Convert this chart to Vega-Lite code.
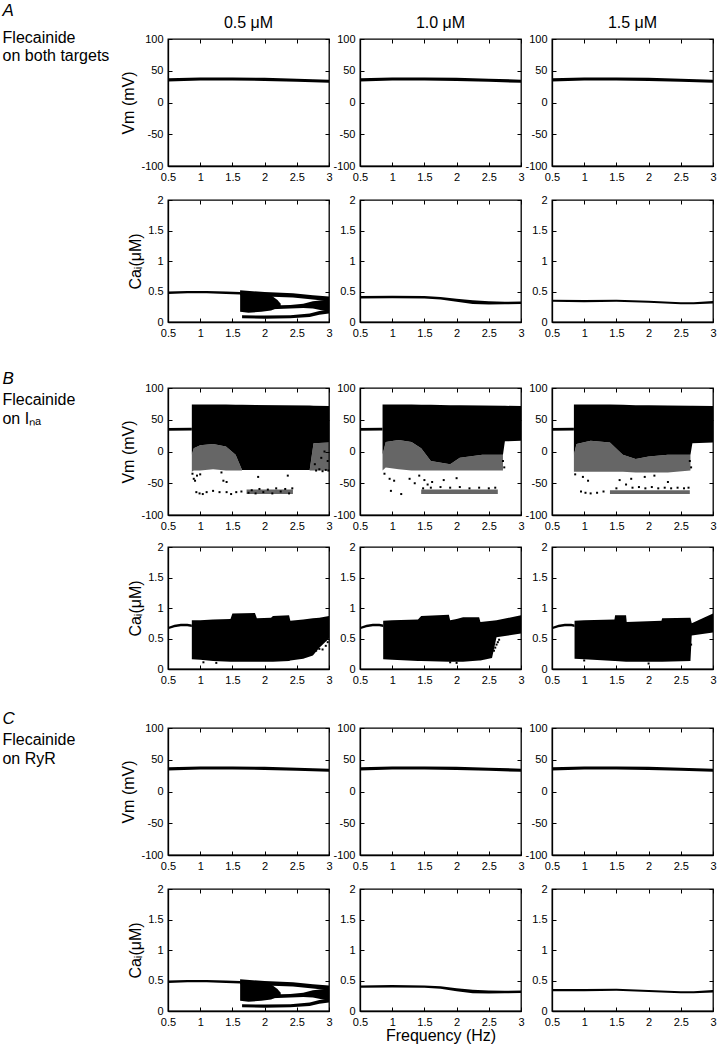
{
"$schema":"https://vega.github.io/schema/vega-lite/v6.json",
"padding":{"left":2,"top":2,"right":0,"bottom":2},
"background":"white",
"config":{
 "font":"Liberation Sans",
 "view":{"stroke":"black","strokeWidth":1.3},
 "axis":{"grid":false,"domainColor":"black","domainWidth":1.3,"tickColor":"black","tickSize":-4,"tickWidth":1,"labelColor":"black","labelFont":"Liberation Sans","labelFontSize":11,"labelPadding":9,"labelFlush":false,"labelOverlap":false,"labelBound":false,"titleColor":"black","titleFont":"Liberation Sans","titleFontSize":16,"titleFontWeight":"normal","titlePadding":4},
 "title":{"font":"Liberation Sans","fontSize":16,"fontWeight":"normal","color":"black"}
},
"datasets":{"d":[
{"p":"A1V","g":"m","f":0.5,"v":33,"v2":38},{"p":"A1V","g":"m","f":1.0,"v":34.5,"v2":39.5},{"p":"A1V","g":"m","f":1.5,"v":34.5,"v2":39.5},{"p":"A1V","g":"m","f":2.0,"v":34,"v2":39},{"p":"A1V","g":"m","f":2.5,"v":32.5,"v2":37.5},{"p":"A1V","g":"m","f":3.0,"v":31,"v2":36},
{"p":"A2V","g":"m","f":0.5,"v":33,"v2":38},{"p":"A2V","g":"m","f":1.0,"v":34.5,"v2":39.5},{"p":"A2V","g":"m","f":1.5,"v":34.5,"v2":39.5},{"p":"A2V","g":"m","f":2.0,"v":34,"v2":39},{"p":"A2V","g":"m","f":2.5,"v":32.5,"v2":37.5},{"p":"A2V","g":"m","f":3.0,"v":31,"v2":36},
{"p":"A3V","g":"m","f":0.5,"v":33,"v2":38},{"p":"A3V","g":"m","f":1.0,"v":34.5,"v2":39.5},{"p":"A3V","g":"m","f":1.5,"v":34.5,"v2":39.5},{"p":"A3V","g":"m","f":2.0,"v":34,"v2":39},{"p":"A3V","g":"m","f":2.5,"v":32.5,"v2":37.5},{"p":"A3V","g":"m","f":3.0,"v":31,"v2":36},
{"p":"C1V","g":"m","f":0.5,"v":33,"v2":38},{"p":"C1V","g":"m","f":1.0,"v":34.5,"v2":39.5},{"p":"C1V","g":"m","f":1.5,"v":34.5,"v2":39.5},{"p":"C1V","g":"m","f":2.0,"v":34,"v2":39},{"p":"C1V","g":"m","f":2.5,"v":32.5,"v2":37.5},{"p":"C1V","g":"m","f":3.0,"v":31,"v2":36},
{"p":"C2V","g":"m","f":0.5,"v":33,"v2":38},{"p":"C2V","g":"m","f":1.0,"v":34.5,"v2":39.5},{"p":"C2V","g":"m","f":1.5,"v":34.5,"v2":39.5},{"p":"C2V","g":"m","f":2.0,"v":34,"v2":39},{"p":"C2V","g":"m","f":2.5,"v":32.5,"v2":37.5},{"p":"C2V","g":"m","f":3.0,"v":31,"v2":36},
{"p":"C3V","g":"m","f":0.5,"v":33,"v2":38},{"p":"C3V","g":"m","f":1.0,"v":34.5,"v2":39.5},{"p":"C3V","g":"m","f":1.5,"v":34.5,"v2":39.5},{"p":"C3V","g":"m","f":2.0,"v":34,"v2":39},{"p":"C3V","g":"m","f":2.5,"v":32.5,"v2":37.5},{"p":"C3V","g":"m","f":3.0,"v":31,"v2":36},

{"p":"A1C","g":"m","f":0.5,"v":0.46,"v2":0.5},{"p":"A1C","g":"m","f":0.8,"v":0.47,"v2":0.51},{"p":"A1C","g":"m","f":1.1,"v":0.47,"v2":0.51},{"p":"A1C","g":"m","f":1.4,"v":0.46,"v2":0.5},{"p":"A1C","g":"m","f":1.62,"v":0.45,"v2":0.49},
{"p":"A1C","g":"u","f":1.62,"v":0.44,"v2":0.52},{"p":"A1C","g":"u","f":2.0,"v":0.42,"v2":0.49},{"p":"A1C","g":"u","f":2.44,"v":0.4,"v2":0.47},{"p":"A1C","g":"u","f":2.75,"v":0.37,"v2":0.44},{"p":"A1C","g":"u","f":3.0,"v":0.34,"v2":0.42},
{"p":"A1C","g":"b","f":1.62,"v":0.17,"v2":0.5},{"p":"A1C","g":"b","f":1.75,"v":0.15,"v2":0.49},{"p":"A1C","g":"b","f":1.95,"v":0.17,"v2":0.47},{"p":"A1C","g":"b","f":2.1,"v":0.19,"v2":0.44},{"p":"A1C","g":"b","f":2.2,"v":0.23,"v2":0.36},{"p":"A1C","g":"b","f":2.25,"v":0.26,"v2":0.3},
{"p":"A1C","g":"k","f":2.1,"v":0.21,"v2":0.27},{"p":"A1C","g":"k","f":2.4,"v":0.22,"v2":0.28},{"p":"A1C","g":"k","f":2.6,"v":0.23,"v2":0.3},{"p":"A1C","g":"k","f":2.75,"v":0.22,"v2":0.34},{"p":"A1C","g":"k","f":3.0,"v":0.17,"v2":0.37},
{"p":"A1C","g":"l","f":1.65,"v":0.06,"v2":0.11},{"p":"A1C","g":"l","f":2.0,"v":0.055,"v2":0.105},{"p":"A1C","g":"l","f":2.4,"v":0.06,"v2":0.11},{"p":"A1C","g":"l","f":2.7,"v":0.08,"v2":0.14},{"p":"A1C","g":"l","f":2.85,"v":0.12,"v2":0.18},{"p":"A1C","g":"l","f":3.0,"v":0.14,"v2":0.2},

{"p":"C1C","g":"m","f":0.5,"v":0.46,"v2":0.5},{"p":"C1C","g":"m","f":0.8,"v":0.47,"v2":0.51},{"p":"C1C","g":"m","f":1.1,"v":0.47,"v2":0.51},{"p":"C1C","g":"m","f":1.4,"v":0.46,"v2":0.5},{"p":"C1C","g":"m","f":1.62,"v":0.45,"v2":0.49},
{"p":"C1C","g":"u","f":1.62,"v":0.44,"v2":0.52},{"p":"C1C","g":"u","f":2.0,"v":0.42,"v2":0.49},{"p":"C1C","g":"u","f":2.44,"v":0.4,"v2":0.47},{"p":"C1C","g":"u","f":2.75,"v":0.37,"v2":0.44},{"p":"C1C","g":"u","f":3.0,"v":0.34,"v2":0.42},
{"p":"C1C","g":"b","f":1.62,"v":0.17,"v2":0.5},{"p":"C1C","g":"b","f":1.75,"v":0.15,"v2":0.49},{"p":"C1C","g":"b","f":1.95,"v":0.17,"v2":0.47},{"p":"C1C","g":"b","f":2.1,"v":0.19,"v2":0.44},{"p":"C1C","g":"b","f":2.2,"v":0.23,"v2":0.36},{"p":"C1C","g":"b","f":2.25,"v":0.26,"v2":0.3},
{"p":"C1C","g":"k","f":2.1,"v":0.21,"v2":0.27},{"p":"C1C","g":"k","f":2.4,"v":0.22,"v2":0.28},{"p":"C1C","g":"k","f":2.6,"v":0.23,"v2":0.3},{"p":"C1C","g":"k","f":2.75,"v":0.22,"v2":0.34},{"p":"C1C","g":"k","f":3.0,"v":0.17,"v2":0.37},
{"p":"C1C","g":"l","f":1.65,"v":0.06,"v2":0.11},{"p":"C1C","g":"l","f":2.0,"v":0.055,"v2":0.105},{"p":"C1C","g":"l","f":2.4,"v":0.06,"v2":0.11},{"p":"C1C","g":"l","f":2.7,"v":0.08,"v2":0.14},{"p":"C1C","g":"l","f":2.85,"v":0.12,"v2":0.18},{"p":"C1C","g":"l","f":3.0,"v":0.14,"v2":0.2},

{"p":"A2C","g":"m","f":0.5,"v":0.385,"v2":0.425},{"p":"A2C","g":"m","f":1.0,"v":0.39,"v2":0.43},{"p":"A2C","g":"m","f":1.5,"v":0.385,"v2":0.425},{"p":"A2C","g":"m","f":1.75,"v":0.37,"v2":0.41},{"p":"A2C","g":"m","f":2.0,"v":0.33,"v2":0.38},{"p":"A2C","g":"m","f":2.25,"v":0.295,"v2":0.355},{"p":"A2C","g":"m","f":2.5,"v":0.285,"v2":0.34},{"p":"A2C","g":"m","f":2.75,"v":0.29,"v2":0.33},{"p":"A2C","g":"m","f":3.0,"v":0.295,"v2":0.335},
{"p":"C2C","g":"m","f":0.5,"v":0.38,"v2":0.42},{"p":"C2C","g":"m","f":1.0,"v":0.385,"v2":0.425},{"p":"C2C","g":"m","f":1.5,"v":0.38,"v2":0.42},{"p":"C2C","g":"m","f":1.75,"v":0.365,"v2":0.405},{"p":"C2C","g":"m","f":2.0,"v":0.325,"v2":0.375},{"p":"C2C","g":"m","f":2.25,"v":0.29,"v2":0.35},{"p":"C2C","g":"m","f":2.5,"v":0.285,"v2":0.335},{"p":"C2C","g":"m","f":2.75,"v":0.29,"v2":0.33},{"p":"C2C","g":"m","f":3.0,"v":0.295,"v2":0.335},
{"p":"A3C","g":"m","f":0.5,"v":0.33,"v2":0.365},{"p":"A3C","g":"m","f":1.0,"v":0.325,"v2":0.36},{"p":"A3C","g":"m","f":1.5,"v":0.33,"v2":0.365},{"p":"A3C","g":"m","f":2.0,"v":0.315,"v2":0.35},{"p":"A3C","g":"m","f":2.5,"v":0.29,"v2":0.325},{"p":"A3C","g":"m","f":2.7,"v":0.29,"v2":0.325},{"p":"A3C","g":"m","f":3.0,"v":0.305,"v2":0.345},
{"p":"C3C","g":"m","f":0.5,"v":0.325,"v2":0.36},{"p":"C3C","g":"m","f":1.0,"v":0.325,"v2":0.36},{"p":"C3C","g":"m","f":1.5,"v":0.33,"v2":0.365},{"p":"C3C","g":"m","f":2.0,"v":0.31,"v2":0.345},{"p":"C3C","g":"m","f":2.5,"v":0.29,"v2":0.325},{"p":"C3C","g":"m","f":2.7,"v":0.29,"v2":0.325},{"p":"C3C","g":"m","f":3.0,"v":0.305,"v2":0.345},

{"p":"B1V","g":"m","f":0.5,"v":32.5,"v2":37},{"p":"B1V","g":"m","f":0.87,"v":33,"v2":37.5},
{"p":"B1V","g":"d","f":0.87,"v":-5,"v2":74},{"p":"B1V","g":"d","f":0.9,"v":5,"v2":74},{"p":"B1V","g":"d","f":1.0,"v":10,"v2":74},{"p":"B1V","g":"d","f":1.2,"v":12,"v2":74},{"p":"B1V","g":"d","f":1.4,"v":8,"v2":74},{"p":"B1V","g":"d","f":1.55,"v":-5,"v2":73.5},{"p":"B1V","g":"d","f":1.65,"v":-29,"v2":73.5},{"p":"B1V","g":"d","f":2.7,"v":-29,"v2":72.3},{"p":"B1V","g":"d","f":2.76,"v":13,"v2":72.1},{"p":"B1V","g":"d","f":3.0,"v":14,"v2":71.5},
{"p":"B1V","g":"s1","f":0.87,"v":-32,"v2":-5},{"p":"B1V","g":"s1","f":0.9,"v":-30,"v2":5},{"p":"B1V","g":"s1","f":1.0,"v":-30,"v2":10},{"p":"B1V","g":"s1","f":1.2,"v":-28,"v2":12},{"p":"B1V","g":"s1","f":1.4,"v":-30,"v2":8},{"p":"B1V","g":"s1","f":1.55,"v":-30,"v2":-5},{"p":"B1V","g":"s1","f":1.65,"v":-30,"v2":-29},
{"p":"B1V","g":"s2","f":2.7,"v":-30,"v2":-29},{"p":"B1V","g":"s2","f":2.76,"v":-30,"v2":13},{"p":"B1V","g":"s2","f":3.0,"v":-30,"v2":14},
{"p":"B1V","g":"s3","f":1.72,"v":-67,"v2":-60},{"p":"B1V","g":"s3","f":2.44,"v":-67,"v2":-60},
{"p":"B1V","g":"x","f":0.88,"v":-35},{"p":"B1V","g":"x","f":0.9,"v":-43},{"p":"B1V","g":"x","f":0.92,"v":-46},{"p":"B1V","g":"x","f":0.95,"v":-38},{"p":"B1V","g":"x","f":1.0,"v":-36},{"p":"B1V","g":"x","f":0.94,"v":-64},{"p":"B1V","g":"x","f":0.99,"v":-66},{"p":"B1V","g":"x","f":1.04,"v":-67},{"p":"B1V","g":"x","f":1.1,"v":-64},{"p":"B1V","g":"x","f":1.2,"v":-62},{"p":"B1V","g":"x","f":1.3,"v":-64},{"p":"B1V","g":"x","f":1.41,"v":-64},{"p":"B1V","g":"x","f":1.48,"v":-67},{"p":"B1V","g":"x","f":1.56,"v":-64},{"p":"B1V","g":"x","f":1.64,"v":-63},{"p":"B1V","g":"x","f":1.33,"v":-33},{"p":"B1V","g":"x","f":1.36,"v":-46},{"p":"B1V","g":"x","f":1.41,"v":-48},{"p":"B1V","g":"x","f":1.9,"v":-40},{"p":"B1V","g":"x","f":2.36,"v":-38},{"p":"B1V","g":"x","f":1.75,"v":-65},{"p":"B1V","g":"x","f":1.8,"v":-61},{"p":"B1V","g":"x","f":1.86,"v":-66},{"p":"B1V","g":"x","f":1.92,"v":-59},{"p":"B1V","g":"x","f":1.98,"v":-64},{"p":"B1V","g":"x","f":2.05,"v":-60},{"p":"B1V","g":"x","f":2.12,"v":-66},{"p":"B1V","g":"x","f":2.18,"v":-58},{"p":"B1V","g":"x","f":2.25,"v":-63},{"p":"B1V","g":"x","f":2.32,"v":-59},{"p":"B1V","g":"x","f":2.38,"v":-66},{"p":"B1V","g":"x","f":2.43,"v":-58},{"p":"B1V","g":"x","f":2.8,"v":-30},{"p":"B1V","g":"x","f":2.85,"v":-28},{"p":"B1V","g":"x","f":2.9,"v":-31},{"p":"B1V","g":"x","f":2.95,"v":-29},{"p":"B1V","g":"x","f":2.99,"v":-30},{"p":"B1V","g":"x","f":2.78,"v":-20},{"p":"B1V","g":"x","f":2.88,"v":-10},{"p":"B1V","g":"x","f":2.93,"v":0},{"p":"B1V","g":"x","f":2.98,"v":-15},

{"p":"B2V","g":"m","f":0.5,"v":32.5,"v2":37},{"p":"B2V","g":"m","f":0.85,"v":33,"v2":37.5},
{"p":"B2V","g":"d","f":0.85,"v":-5,"v2":74},{"p":"B2V","g":"d","f":0.9,"v":15,"v2":74},{"p":"B2V","g":"d","f":1.1,"v":18,"v2":74},{"p":"B2V","g":"d","f":1.3,"v":15,"v2":74},{"p":"B2V","g":"d","f":1.45,"v":5,"v2":73.8},{"p":"B2V","g":"d","f":1.6,"v":-15,"v2":73.5},{"p":"B2V","g":"d","f":1.9,"v":-20,"v2":73},{"p":"B2V","g":"d","f":2.05,"v":-10,"v2":73},{"p":"B2V","g":"d","f":2.4,"v":-5,"v2":72.5},{"p":"B2V","g":"d","f":2.72,"v":-5,"v2":72},{"p":"B2V","g":"d","f":2.75,"v":16,"v2":72},{"p":"B2V","g":"d","f":3.0,"v":17,"v2":71.5},
{"p":"B2V","g":"s1","f":0.85,"v":-30,"v2":-5},{"p":"B2V","g":"s1","f":0.9,"v":-25,"v2":15},{"p":"B2V","g":"s1","f":1.1,"v":-28,"v2":18},{"p":"B2V","g":"s1","f":1.3,"v":-30,"v2":15},{"p":"B2V","g":"s1","f":1.45,"v":-30,"v2":5},{"p":"B2V","g":"s1","f":1.6,"v":-30,"v2":-15},{"p":"B2V","g":"s1","f":1.9,"v":-30,"v2":-20},{"p":"B2V","g":"s1","f":2.05,"v":-30,"v2":-10},{"p":"B2V","g":"s1","f":2.4,"v":-30,"v2":-5},{"p":"B2V","g":"s1","f":2.72,"v":-30,"v2":-5},
{"p":"B2V","g":"s3","f":1.45,"v":-67,"v2":-60},{"p":"B2V","g":"s3","f":2.64,"v":-67,"v2":-60},
{"p":"B2V","g":"x","f":0.88,"v":-35},{"p":"B2V","g":"x","f":0.96,"v":-43},{"p":"B2V","g":"x","f":0.98,"v":-62},{"p":"B2V","g":"x","f":1.03,"v":-46},{"p":"B2V","g":"x","f":1.14,"v":-67},{"p":"B2V","g":"x","f":1.27,"v":-43},{"p":"B2V","g":"x","f":1.35,"v":-50},{"p":"B2V","g":"x","f":1.42,"v":-38},{"p":"B2V","g":"x","f":1.5,"v":-45},{"p":"B2V","g":"x","f":1.55,"v":-52},{"p":"B2V","g":"x","f":1.62,"v":-48},{"p":"B2V","g":"x","f":1.48,"v":-58},{"p":"B2V","g":"x","f":1.6,"v":-57},{"p":"B2V","g":"x","f":1.75,"v":-56},{"p":"B2V","g":"x","f":1.9,"v":-57},{"p":"B2V","g":"x","f":2.05,"v":-56},{"p":"B2V","g":"x","f":2.2,"v":-58},{"p":"B2V","g":"x","f":2.35,"v":-57},{"p":"B2V","g":"x","f":2.5,"v":-58},{"p":"B2V","g":"x","f":2.6,"v":-57},{"p":"B2V","g":"x","f":2.74,"v":-25},{"p":"B2V","g":"x","f":2.72,"v":-15},{"p":"B2V","g":"x","f":1.8,"v":-45},{"p":"B2V","g":"x","f":2.0,"v":-42},

{"p":"B3V","g":"m","f":0.5,"v":32.5,"v2":37},{"p":"B3V","g":"m","f":0.84,"v":33,"v2":37.5},
{"p":"B3V","g":"d","f":0.84,"v":-5,"v2":74},{"p":"B3V","g":"d","f":0.88,"v":12,"v2":74},{"p":"B3V","g":"d","f":1.1,"v":17,"v2":74},{"p":"B3V","g":"d","f":1.4,"v":14,"v2":74},{"p":"B3V","g":"d","f":1.6,"v":-5,"v2":73.5},{"p":"B3V","g":"d","f":1.8,"v":-12,"v2":73},{"p":"B3V","g":"d","f":2.0,"v":-8,"v2":73},{"p":"B3V","g":"d","f":2.3,"v":-5,"v2":72.5},{"p":"B3V","g":"d","f":2.65,"v":-5,"v2":72},{"p":"B3V","g":"d","f":2.68,"v":13,"v2":72},{"p":"B3V","g":"d","f":3.0,"v":14,"v2":71.5},
{"p":"B3V","g":"s1","f":0.84,"v":-32,"v2":-5},{"p":"B3V","g":"s1","f":0.88,"v":-32,"v2":12},{"p":"B3V","g":"s1","f":1.1,"v":-32,"v2":17},{"p":"B3V","g":"s1","f":1.4,"v":-32,"v2":14},{"p":"B3V","g":"s1","f":1.6,"v":-32,"v2":-5},{"p":"B3V","g":"s1","f":1.8,"v":-33,"v2":-12},{"p":"B3V","g":"s1","f":2.0,"v":-33,"v2":-8},{"p":"B3V","g":"s1","f":2.3,"v":-33,"v2":-5},{"p":"B3V","g":"s1","f":2.65,"v":-30,"v2":-5},
{"p":"B3V","g":"s3","f":1.4,"v":-67,"v2":-61},{"p":"B3V","g":"s3","f":2.64,"v":-67,"v2":-61},
{"p":"B3V","g":"x","f":0.86,"v":-36},{"p":"B3V","g":"x","f":0.98,"v":-40},{"p":"B3V","g":"x","f":1.06,"v":-46},{"p":"B3V","g":"x","f":0.95,"v":-63},{"p":"B3V","g":"x","f":1.02,"v":-65},{"p":"B3V","g":"x","f":1.1,"v":-66},{"p":"B3V","g":"x","f":1.2,"v":-65},{"p":"B3V","g":"x","f":1.3,"v":-63},{"p":"B3V","g":"x","f":1.73,"v":-43},{"p":"B3V","g":"x","f":1.94,"v":-40},{"p":"B3V","g":"x","f":2.09,"v":-38},{"p":"B3V","g":"x","f":2.3,"v":-48},{"p":"B3V","g":"x","f":1.55,"v":-45},{"p":"B3V","g":"x","f":1.65,"v":-52},{"p":"B3V","g":"x","f":1.5,"v":-58},{"p":"B3V","g":"x","f":1.75,"v":-57},{"p":"B3V","g":"x","f":1.85,"v":-56},{"p":"B3V","g":"x","f":1.95,"v":-58},{"p":"B3V","g":"x","f":2.05,"v":-56},{"p":"B3V","g":"x","f":2.15,"v":-58},{"p":"B3V","g":"x","f":2.25,"v":-57},{"p":"B3V","g":"x","f":2.35,"v":-58},{"p":"B3V","g":"x","f":2.45,"v":-57},{"p":"B3V","g":"x","f":2.55,"v":-58},{"p":"B3V","g":"x","f":2.62,"v":-57},{"p":"B3V","g":"x","f":2.66,"v":-25},{"p":"B3V","g":"x","f":2.64,"v":-15},

{"p":"B1C","g":"m","f":0.5,"v":0.65,"v2":0.69},{"p":"B1C","g":"m","f":0.6,"v":0.685,"v2":0.725},{"p":"B1C","g":"m","f":0.7,"v":0.7,"v2":0.74},{"p":"B1C","g":"m","f":0.8,"v":0.7,"v2":0.74},{"p":"B1C","g":"m","f":0.87,"v":0.69,"v2":0.73},
{"p":"B1C","g":"d","f":0.87,"v":0.16,"v2":0.8},{"p":"B1C","g":"d","f":1.0,"v":0.15,"v2":0.8},{"p":"B1C","g":"d","f":1.2,"v":0.13,"v2":0.81},{"p":"B1C","g":"d","f":1.47,"v":0.12,"v2":0.82},{"p":"B1C","g":"d","f":1.5,"v":0.12,"v2":0.91},{"p":"B1C","g":"d","f":1.85,"v":0.12,"v2":0.92},{"p":"B1C","g":"d","f":1.88,"v":0.12,"v2":0.83},{"p":"B1C","g":"d","f":2.1,"v":0.12,"v2":0.84},{"p":"B1C","g":"d","f":2.13,"v":0.12,"v2":0.87},{"p":"B1C","g":"d","f":2.38,"v":0.13,"v2":0.88},{"p":"B1C","g":"d","f":2.4,"v":0.14,"v2":0.79},{"p":"B1C","g":"d","f":2.6,"v":0.17,"v2":0.81},{"p":"B1C","g":"d","f":2.75,"v":0.22,"v2":0.83},{"p":"B1C","g":"d","f":2.85,"v":0.35,"v2":0.84},{"p":"B1C","g":"d","f":3.0,"v":0.5,"v2":0.87},
{"p":"B1C","g":"x","f":2.55,"v":0.27},{"p":"B1C","g":"x","f":2.6,"v":0.3},{"p":"B1C","g":"x","f":2.68,"v":0.28},{"p":"B1C","g":"x","f":2.75,"v":0.31},{"p":"B1C","g":"x","f":2.8,"v":0.3},{"p":"B1C","g":"x","f":2.85,"v":0.33},{"p":"B1C","g":"x","f":2.9,"v":0.32},{"p":"B1C","g":"x","f":2.95,"v":0.38},{"p":"B1C","g":"x","f":2.98,"v":0.44},{"p":"B1C","g":"x","f":1.05,"v":0.11},{"p":"B1C","g":"x","f":1.25,"v":0.1},{"p":"B1C","g":"x","f":2.5,"v":0.2},

{"p":"B2C","g":"m","f":0.5,"v":0.65,"v2":0.69},{"p":"B2C","g":"m","f":0.6,"v":0.685,"v2":0.725},{"p":"B2C","g":"m","f":0.7,"v":0.7,"v2":0.74},{"p":"B2C","g":"m","f":0.8,"v":0.7,"v2":0.74},{"p":"B2C","g":"m","f":0.86,"v":0.69,"v2":0.73},
{"p":"B2C","g":"d","f":0.86,"v":0.16,"v2":0.79},{"p":"B2C","g":"d","f":1.0,"v":0.15,"v2":0.8},{"p":"B2C","g":"d","f":1.4,"v":0.13,"v2":0.81},{"p":"B2C","g":"d","f":1.45,"v":0.13,"v2":0.87},{"p":"B2C","g":"d","f":1.88,"v":0.12,"v2":0.89},{"p":"B2C","g":"d","f":1.9,"v":0.12,"v2":0.8},{"p":"B2C","g":"d","f":2.0,"v":0.12,"v2":0.82},{"p":"B2C","g":"d","f":2.1,"v":0.12,"v2":0.85},{"p":"B2C","g":"d","f":2.35,"v":0.14,"v2":0.85},{"p":"B2C","g":"d","f":2.37,"v":0.14,"v2":0.77},{"p":"B2C","g":"d","f":2.55,"v":0.18,"v2":0.79},{"p":"B2C","g":"d","f":2.62,"v":0.52,"v2":0.8},{"p":"B2C","g":"d","f":3.0,"v":0.58,"v2":0.88},
{"p":"B2C","g":"x","f":2.58,"v":0.3},{"p":"B2C","g":"x","f":2.6,"v":0.35},{"p":"B2C","g":"x","f":2.62,"v":0.4},{"p":"B2C","g":"x","f":2.64,"v":0.44},{"p":"B2C","g":"x","f":2.66,"v":0.48},{"p":"B2C","g":"x","f":2.0,"v":0.1},{"p":"B2C","g":"x","f":1.9,"v":0.11},

{"p":"B3C","g":"m","f":0.5,"v":0.65,"v2":0.69},{"p":"B3C","g":"m","f":0.6,"v":0.685,"v2":0.725},{"p":"B3C","g":"m","f":0.7,"v":0.7,"v2":0.74},{"p":"B3C","g":"m","f":0.8,"v":0.7,"v2":0.74},{"p":"B3C","g":"m","f":0.85,"v":0.69,"v2":0.73},
{"p":"B3C","g":"d","f":0.85,"v":0.17,"v2":0.79},{"p":"B3C","g":"d","f":1.0,"v":0.16,"v2":0.8},{"p":"B3C","g":"d","f":1.47,"v":0.13,"v2":0.81},{"p":"B3C","g":"d","f":1.48,"v":0.13,"v2":0.88},{"p":"B3C","g":"d","f":1.65,"v":0.12,"v2":0.88},{"p":"B3C","g":"d","f":1.66,"v":0.12,"v2":0.77},{"p":"B3C","g":"d","f":2.2,"v":0.12,"v2":0.79},{"p":"B3C","g":"d","f":2.21,"v":0.12,"v2":0.83},{"p":"B3C","g":"d","f":2.65,"v":0.13,"v2":0.84},{"p":"B3C","g":"d","f":2.67,"v":0.55,"v2":0.75},{"p":"B3C","g":"d","f":3.0,"v":0.6,"v2":0.91},
{"p":"B3C","g":"x","f":2.6,"v":0.2},{"p":"B3C","g":"x","f":2.62,"v":0.28},{"p":"B3C","g":"x","f":2.64,"v":0.33},{"p":"B3C","g":"x","f":2.66,"v":0.4},{"p":"B3C","g":"x","f":2.0,"v":0.09},{"p":"B3C","g":"x","f":1.0,"v":0.14}
]},
"data":{"name":"d"},
"vconcat":[
{"vconcat":[
{"title":{"text":"A","anchor":"start","fontStyle":"italic","fontSize":17,"offset":-6.5},"vconcat":[
{"title":{"text":["Flecainide","on both targets"],"orient":"left","anchor":"end","angle":0,"align":"left","baseline":"top","lineHeight":17.5,"offset":11,"dy":16.5},
 "columns":3,"spacing":{"row":34,"column":31},"bounds":"flush",
 "concat":[
 {"width":161,"height":127,"title":{"text":"0.5 μM","frame":"group","offset":2.5},"transform":[{"filter":"datum.p=='A1V'"}],"encoding":{"x":{"field":"f","type":"quantitative","scale":{"domain":[0.5,3],"nice":false},"axis":{"values":[0.5,1,1.5,2,2.5,3],"format":"~r","title":null}},"y":{"field":"v","type":"quantitative","scale":{"domain":[-100,100],"nice":false},"axis":{"values":[-100,-50,0,50,100],"format":"~r","labelExpr":"replace(datum.label,'−','-')","title":"Vm (mV)"}}},"resolve":{"axis":{"x":"independent","y":"independent"}},
  "layer":[{"transform":[{"filter":"datum.g!='x'&&substring(datum.g,0,1)!='s'"}],"mark":{"type":"area","color":"black"},"encoding":{"y2":{"field":"v2"},"detail":{"field":"g","type":"nominal"}}},{"transform":[{"filter":"false"}],"mark":{"type":"point"},"encoding":{"x":{"field":"f","type":"quantitative","scale":{"domain":[0.5,3],"nice":false},"axis":{"orient":"top","labels":false,"domain":false,"values":[0.5,1,1.5,2,2.5,3],"title":null}},"y":{"field":"v","type":"quantitative","scale":{"domain":[-100,100],"nice":false},"axis":{"orient":"right","labels":false,"domain":false,"values":[-100,-50,0,50,100],"title":null}}}}]},
 {"width":161,"height":127,"title":{"text":"1.0 μM","frame":"group","offset":2.5},"transform":[{"filter":"datum.p=='A2V'"}],"encoding":{"x":{"field":"f","type":"quantitative","scale":{"domain":[0.5,3],"nice":false},"axis":{"values":[0.5,1,1.5,2,2.5,3],"format":"~r","title":null}},"y":{"field":"v","type":"quantitative","scale":{"domain":[-100,100],"nice":false},"axis":{"values":[-100,-50,0,50,100],"format":"~r","labelExpr":"replace(datum.label,'−','-')","title":null}}},"resolve":{"axis":{"x":"independent","y":"independent"}},
  "layer":[{"transform":[{"filter":"datum.g!='x'&&substring(datum.g,0,1)!='s'"}],"mark":{"type":"area","color":"black"},"encoding":{"y2":{"field":"v2"},"detail":{"field":"g","type":"nominal"}}},{"transform":[{"filter":"false"}],"mark":{"type":"point"},"encoding":{"x":{"field":"f","type":"quantitative","scale":{"domain":[0.5,3],"nice":false},"axis":{"orient":"top","labels":false,"domain":false,"values":[0.5,1,1.5,2,2.5,3],"title":null}},"y":{"field":"v","type":"quantitative","scale":{"domain":[-100,100],"nice":false},"axis":{"orient":"right","labels":false,"domain":false,"values":[-100,-50,0,50,100],"title":null}}}}]},
 {"width":161,"height":127,"title":{"text":"1.5 μM","frame":"group","offset":2.5},"transform":[{"filter":"datum.p=='A3V'"}],"encoding":{"x":{"field":"f","type":"quantitative","scale":{"domain":[0.5,3],"nice":false},"axis":{"values":[0.5,1,1.5,2,2.5,3],"format":"~r","title":null}},"y":{"field":"v","type":"quantitative","scale":{"domain":[-100,100],"nice":false},"axis":{"values":[-100,-50,0,50,100],"format":"~r","labelExpr":"replace(datum.label,'−','-')","title":null}}},"resolve":{"axis":{"x":"independent","y":"independent"}},
  "layer":[{"transform":[{"filter":"datum.g!='x'&&substring(datum.g,0,1)!='s'"}],"mark":{"type":"area","color":"black"},"encoding":{"y2":{"field":"v2"},"detail":{"field":"g","type":"nominal"}}},{"transform":[{"filter":"false"}],"mark":{"type":"point"},"encoding":{"x":{"field":"f","type":"quantitative","scale":{"domain":[0.5,3],"nice":false},"axis":{"orient":"top","labels":false,"domain":false,"values":[0.5,1,1.5,2,2.5,3],"title":null}},"y":{"field":"v","type":"quantitative","scale":{"domain":[-100,100],"nice":false},"axis":{"orient":"right","labels":false,"domain":false,"values":[-100,-50,0,50,100],"title":null}}}}]},
 {"width":161,"height":122,"transform":[{"filter":"datum.p=='A1C'"}],"encoding":{"x":{"field":"f","type":"quantitative","scale":{"domain":[0.5,3],"nice":false},"axis":{"values":[0.5,1,1.5,2,2.5,3],"format":"~r","title":null}},"y":{"field":"v","type":"quantitative","scale":{"domain":[0,2],"nice":false},"axis":{"values":[0,0.5,1,1.5,2],"format":"~r","title":"Caᵢ(μM)"}}},"resolve":{"axis":{"x":"independent","y":"independent"}},
  "layer":[{"transform":[{"filter":"datum.g!='x'&&substring(datum.g,0,1)!='s'"}],"mark":{"type":"area","color":"black"},"encoding":{"y2":{"field":"v2"},"detail":{"field":"g","type":"nominal"}}},{"transform":[{"filter":"false"}],"mark":{"type":"point"},"encoding":{"x":{"field":"f","type":"quantitative","scale":{"domain":[0.5,3],"nice":false},"axis":{"orient":"top","labels":false,"domain":false,"values":[0.5,1,1.5,2,2.5,3],"title":null}},"y":{"field":"v","type":"quantitative","scale":{"domain":[0,2],"nice":false},"axis":{"orient":"right","labels":false,"domain":false,"values":[0,0.5,1,1.5,2],"title":null}}}}]},
 {"width":161,"height":122,"transform":[{"filter":"datum.p=='A2C'"}],"encoding":{"x":{"field":"f","type":"quantitative","scale":{"domain":[0.5,3],"nice":false},"axis":{"values":[0.5,1,1.5,2,2.5,3],"format":"~r","title":null}},"y":{"field":"v","type":"quantitative","scale":{"domain":[0,2],"nice":false},"axis":{"values":[0,0.5,1,1.5,2],"format":"~r","title":null}}},"resolve":{"axis":{"x":"independent","y":"independent"}},
  "layer":[{"transform":[{"filter":"datum.g!='x'&&substring(datum.g,0,1)!='s'"}],"mark":{"type":"area","color":"black"},"encoding":{"y2":{"field":"v2"},"detail":{"field":"g","type":"nominal"}}},{"transform":[{"filter":"false"}],"mark":{"type":"point"},"encoding":{"x":{"field":"f","type":"quantitative","scale":{"domain":[0.5,3],"nice":false},"axis":{"orient":"top","labels":false,"domain":false,"values":[0.5,1,1.5,2,2.5,3],"title":null}},"y":{"field":"v","type":"quantitative","scale":{"domain":[0,2],"nice":false},"axis":{"orient":"right","labels":false,"domain":false,"values":[0,0.5,1,1.5,2],"title":null}}}}]},
 {"width":161,"height":122,"transform":[{"filter":"datum.p=='A3C'"}],"encoding":{"x":{"field":"f","type":"quantitative","scale":{"domain":[0.5,3],"nice":false},"axis":{"values":[0.5,1,1.5,2,2.5,3],"format":"~r","title":null}},"y":{"field":"v","type":"quantitative","scale":{"domain":[0,2],"nice":false},"axis":{"values":[0,0.5,1,1.5,2],"format":"~r","title":null}}},"resolve":{"axis":{"x":"independent","y":"independent"}},
  "layer":[{"transform":[{"filter":"datum.g!='x'&&substring(datum.g,0,1)!='s'"}],"mark":{"type":"area","color":"black"},"encoding":{"y2":{"field":"v2"},"detail":{"field":"g","type":"nominal"}}},{"transform":[{"filter":"false"}],"mark":{"type":"point"},"encoding":{"x":{"field":"f","type":"quantitative","scale":{"domain":[0.5,3],"nice":false},"axis":{"orient":"top","labels":false,"domain":false,"values":[0.5,1,1.5,2,2.5,3],"title":null}},"y":{"field":"v","type":"quantitative","scale":{"domain":[0,2],"nice":false},"axis":{"orient":"right","labels":false,"domain":false,"values":[0,0.5,1,1.5,2],"title":null}}}}]}
 ]}]},
{"title":{"text":"B","anchor":"start","fontStyle":"italic","fontSize":17,"offset":-7},"vconcat":[
{"title":{"text":["Flecainide","on Iₙₐ"],"orient":"left","anchor":"end","angle":0,"align":"left","baseline":"top","lineHeight":19,"offset":11,"dy":11,"dx":-34},
 "columns":3,"spacing":{"row":32,"column":31},"bounds":"flush",
 "concat":[
 {"width":161,"height":127,"transform":[{"filter":"datum.p=='B1V'"}],"encoding":{"x":{"field":"f","type":"quantitative","scale":{"domain":[0.5,3],"nice":false},"axis":{"values":[0.5,1,1.5,2,2.5,3],"format":"~r","title":null}},"y":{"field":"v","type":"quantitative","scale":{"domain":[-100,100],"nice":false},"axis":{"values":[-100,-50,0,50,100],"format":"~r","labelExpr":"replace(datum.label,'−','-')","title":"Vm (mV)"}}},"resolve":{"axis":{"x":"independent","y":"independent"}},
  "layer":[{"transform":[{"filter":"datum.g!='x'&&substring(datum.g,0,1)!='s'"}],"mark":{"type":"area","color":"black"},"encoding":{"y2":{"field":"v2"},"detail":{"field":"g","type":"nominal"}}},{"transform":[{"filter":"substring(datum.g,0,1)=='s'"}],"mark":{"type":"area","color":"black","opacity":0.6},"encoding":{"x":{"field":"f","type":"quantitative","scale":{"domain":[0.5,3],"nice":false},"axis":null},"y":{"field":"v","type":"quantitative","scale":{"domain":[-100,100],"nice":false},"axis":null},"y2":{"field":"v2"},"detail":{"field":"g","type":"nominal"}}},{"transform":[{"filter":"datum.g=='x'"}],"mark":{"type":"square","color":"black","size":4,"opacity":1},"encoding":{"x":{"field":"f","type":"quantitative","scale":{"domain":[0.5,3],"nice":false},"axis":null},"y":{"field":"v","type":"quantitative","scale":{"domain":[-100,100],"nice":false},"axis":null}}},{"transform":[{"filter":"false"}],"mark":{"type":"point"},"encoding":{"x":{"field":"f","type":"quantitative","scale":{"domain":[0.5,3],"nice":false},"axis":{"orient":"top","labels":false,"domain":false,"values":[0.5,1,1.5,2,2.5,3],"title":null}},"y":{"field":"v","type":"quantitative","scale":{"domain":[-100,100],"nice":false},"axis":{"orient":"right","labels":false,"domain":false,"values":[-100,-50,0,50,100],"title":null}}}}]},
 {"width":161,"height":127,"transform":[{"filter":"datum.p=='B2V'"}],"encoding":{"x":{"field":"f","type":"quantitative","scale":{"domain":[0.5,3],"nice":false},"axis":{"values":[0.5,1,1.5,2,2.5,3],"format":"~r","title":null}},"y":{"field":"v","type":"quantitative","scale":{"domain":[-100,100],"nice":false},"axis":{"values":[-100,-50,0,50,100],"format":"~r","labelExpr":"replace(datum.label,'−','-')","title":null}}},"resolve":{"axis":{"x":"independent","y":"independent"}},
  "layer":[{"transform":[{"filter":"datum.g!='x'&&substring(datum.g,0,1)!='s'"}],"mark":{"type":"area","color":"black"},"encoding":{"y2":{"field":"v2"},"detail":{"field":"g","type":"nominal"}}},{"transform":[{"filter":"substring(datum.g,0,1)=='s'"}],"mark":{"type":"area","color":"black","opacity":0.6},"encoding":{"x":{"field":"f","type":"quantitative","scale":{"domain":[0.5,3],"nice":false},"axis":null},"y":{"field":"v","type":"quantitative","scale":{"domain":[-100,100],"nice":false},"axis":null},"y2":{"field":"v2"},"detail":{"field":"g","type":"nominal"}}},{"transform":[{"filter":"datum.g=='x'"}],"mark":{"type":"square","color":"black","size":4,"opacity":1},"encoding":{"x":{"field":"f","type":"quantitative","scale":{"domain":[0.5,3],"nice":false},"axis":null},"y":{"field":"v","type":"quantitative","scale":{"domain":[-100,100],"nice":false},"axis":null}}},{"transform":[{"filter":"false"}],"mark":{"type":"point"},"encoding":{"x":{"field":"f","type":"quantitative","scale":{"domain":[0.5,3],"nice":false},"axis":{"orient":"top","labels":false,"domain":false,"values":[0.5,1,1.5,2,2.5,3],"title":null}},"y":{"field":"v","type":"quantitative","scale":{"domain":[-100,100],"nice":false},"axis":{"orient":"right","labels":false,"domain":false,"values":[-100,-50,0,50,100],"title":null}}}}]},
 {"width":161,"height":127,"transform":[{"filter":"datum.p=='B3V'"}],"encoding":{"x":{"field":"f","type":"quantitative","scale":{"domain":[0.5,3],"nice":false},"axis":{"values":[0.5,1,1.5,2,2.5,3],"format":"~r","title":null}},"y":{"field":"v","type":"quantitative","scale":{"domain":[-100,100],"nice":false},"axis":{"values":[-100,-50,0,50,100],"format":"~r","labelExpr":"replace(datum.label,'−','-')","title":null}}},"resolve":{"axis":{"x":"independent","y":"independent"}},
  "layer":[{"transform":[{"filter":"datum.g!='x'&&substring(datum.g,0,1)!='s'"}],"mark":{"type":"area","color":"black"},"encoding":{"y2":{"field":"v2"},"detail":{"field":"g","type":"nominal"}}},{"transform":[{"filter":"substring(datum.g,0,1)=='s'"}],"mark":{"type":"area","color":"black","opacity":0.6},"encoding":{"x":{"field":"f","type":"quantitative","scale":{"domain":[0.5,3],"nice":false},"axis":null},"y":{"field":"v","type":"quantitative","scale":{"domain":[-100,100],"nice":false},"axis":null},"y2":{"field":"v2"},"detail":{"field":"g","type":"nominal"}}},{"transform":[{"filter":"datum.g=='x'"}],"mark":{"type":"square","color":"black","size":4,"opacity":1},"encoding":{"x":{"field":"f","type":"quantitative","scale":{"domain":[0.5,3],"nice":false},"axis":null},"y":{"field":"v","type":"quantitative","scale":{"domain":[-100,100],"nice":false},"axis":null}}},{"transform":[{"filter":"false"}],"mark":{"type":"point"},"encoding":{"x":{"field":"f","type":"quantitative","scale":{"domain":[0.5,3],"nice":false},"axis":{"orient":"top","labels":false,"domain":false,"values":[0.5,1,1.5,2,2.5,3],"title":null}},"y":{"field":"v","type":"quantitative","scale":{"domain":[-100,100],"nice":false},"axis":{"orient":"right","labels":false,"domain":false,"values":[-100,-50,0,50,100],"title":null}}}}]},
 {"width":161,"height":122,"transform":[{"filter":"datum.p=='B1C'"}],"encoding":{"x":{"field":"f","type":"quantitative","scale":{"domain":[0.5,3],"nice":false},"axis":{"values":[0.5,1,1.5,2,2.5,3],"format":"~r","title":null}},"y":{"field":"v","type":"quantitative","scale":{"domain":[0,2],"nice":false},"axis":{"values":[0,0.5,1,1.5,2],"format":"~r","title":"Caᵢ(μM)"}}},"resolve":{"axis":{"x":"independent","y":"independent"}},
  "layer":[{"transform":[{"filter":"datum.g!='x'&&substring(datum.g,0,1)!='s'"}],"mark":{"type":"area","color":"black"},"encoding":{"y2":{"field":"v2"},"detail":{"field":"g","type":"nominal"}}},{"transform":[{"filter":"datum.g=='x'"}],"mark":{"type":"square","color":"black","size":4,"opacity":1},"encoding":{"x":{"field":"f","type":"quantitative","scale":{"domain":[0.5,3],"nice":false},"axis":null},"y":{"field":"v","type":"quantitative","scale":{"domain":[0,2],"nice":false},"axis":null}}},{"transform":[{"filter":"false"}],"mark":{"type":"point"},"encoding":{"x":{"field":"f","type":"quantitative","scale":{"domain":[0.5,3],"nice":false},"axis":{"orient":"top","labels":false,"domain":false,"values":[0.5,1,1.5,2,2.5,3],"title":null}},"y":{"field":"v","type":"quantitative","scale":{"domain":[0,2],"nice":false},"axis":{"orient":"right","labels":false,"domain":false,"values":[0,0.5,1,1.5,2],"title":null}}}}]},
 {"width":161,"height":122,"transform":[{"filter":"datum.p=='B2C'"}],"encoding":{"x":{"field":"f","type":"quantitative","scale":{"domain":[0.5,3],"nice":false},"axis":{"values":[0.5,1,1.5,2,2.5,3],"format":"~r","title":null}},"y":{"field":"v","type":"quantitative","scale":{"domain":[0,2],"nice":false},"axis":{"values":[0,0.5,1,1.5,2],"format":"~r","title":null}}},"resolve":{"axis":{"x":"independent","y":"independent"}},
  "layer":[{"transform":[{"filter":"datum.g!='x'&&substring(datum.g,0,1)!='s'"}],"mark":{"type":"area","color":"black"},"encoding":{"y2":{"field":"v2"},"detail":{"field":"g","type":"nominal"}}},{"transform":[{"filter":"datum.g=='x'"}],"mark":{"type":"square","color":"black","size":4,"opacity":1},"encoding":{"x":{"field":"f","type":"quantitative","scale":{"domain":[0.5,3],"nice":false},"axis":null},"y":{"field":"v","type":"quantitative","scale":{"domain":[0,2],"nice":false},"axis":null}}},{"transform":[{"filter":"false"}],"mark":{"type":"point"},"encoding":{"x":{"field":"f","type":"quantitative","scale":{"domain":[0.5,3],"nice":false},"axis":{"orient":"top","labels":false,"domain":false,"values":[0.5,1,1.5,2,2.5,3],"title":null}},"y":{"field":"v","type":"quantitative","scale":{"domain":[0,2],"nice":false},"axis":{"orient":"right","labels":false,"domain":false,"values":[0,0.5,1,1.5,2],"title":null}}}}]},
 {"width":161,"height":122,"transform":[{"filter":"datum.p=='B3C'"}],"encoding":{"x":{"field":"f","type":"quantitative","scale":{"domain":[0.5,3],"nice":false},"axis":{"values":[0.5,1,1.5,2,2.5,3],"format":"~r","title":null}},"y":{"field":"v","type":"quantitative","scale":{"domain":[0,2],"nice":false},"axis":{"values":[0,0.5,1,1.5,2],"format":"~r","title":null}}},"resolve":{"axis":{"x":"independent","y":"independent"}},
  "layer":[{"transform":[{"filter":"datum.g!='x'&&substring(datum.g,0,1)!='s'"}],"mark":{"type":"area","color":"black"},"encoding":{"y2":{"field":"v2"},"detail":{"field":"g","type":"nominal"}}},{"transform":[{"filter":"datum.g=='x'"}],"mark":{"type":"square","color":"black","size":4,"opacity":1},"encoding":{"x":{"field":"f","type":"quantitative","scale":{"domain":[0.5,3],"nice":false},"axis":null},"y":{"field":"v","type":"quantitative","scale":{"domain":[0,2],"nice":false},"axis":null}}},{"transform":[{"filter":"false"}],"mark":{"type":"point"},"encoding":{"x":{"field":"f","type":"quantitative","scale":{"domain":[0.5,3],"nice":false},"axis":{"orient":"top","labels":false,"domain":false,"values":[0.5,1,1.5,2,2.5,3],"title":null}},"y":{"field":"v","type":"quantitative","scale":{"domain":[0,2],"nice":false},"axis":{"orient":"right","labels":false,"domain":false,"values":[0,0.5,1,1.5,2],"title":null}}}}]}
 ]}]}
],"spacing":31},
{"title":{"text":"C","anchor":"start","fontStyle":"italic","fontSize":17,"offset":-7},"vconcat":[
{"title":{"text":["Flecainide","on RyR"],"orient":"left","anchor":"end","angle":0,"align":"left","baseline":"top","lineHeight":19,"offset":11,"dy":11,"dx":-34},
 "columns":3,"spacing":{"row":34,"column":31},"bounds":"flush",
 "concat":[
 {"width":161,"height":127,"transform":[{"filter":"datum.p=='C1V'"}],"encoding":{"x":{"field":"f","type":"quantitative","scale":{"domain":[0.5,3],"nice":false},"axis":{"values":[0.5,1,1.5,2,2.5,3],"format":"~r","title":null}},"y":{"field":"v","type":"quantitative","scale":{"domain":[-100,100],"nice":false},"axis":{"values":[-100,-50,0,50,100],"format":"~r","labelExpr":"replace(datum.label,'−','-')","title":"Vm (mV)"}}},"resolve":{"axis":{"x":"independent","y":"independent"}},
  "layer":[{"transform":[{"filter":"datum.g!='x'&&substring(datum.g,0,1)!='s'"}],"mark":{"type":"area","color":"black"},"encoding":{"y2":{"field":"v2"},"detail":{"field":"g","type":"nominal"}}},{"transform":[{"filter":"false"}],"mark":{"type":"point"},"encoding":{"x":{"field":"f","type":"quantitative","scale":{"domain":[0.5,3],"nice":false},"axis":{"orient":"top","labels":false,"domain":false,"values":[0.5,1,1.5,2,2.5,3],"title":null}},"y":{"field":"v","type":"quantitative","scale":{"domain":[-100,100],"nice":false},"axis":{"orient":"right","labels":false,"domain":false,"values":[-100,-50,0,50,100],"title":null}}}}]},
 {"width":161,"height":127,"transform":[{"filter":"datum.p=='C2V'"}],"encoding":{"x":{"field":"f","type":"quantitative","scale":{"domain":[0.5,3],"nice":false},"axis":{"values":[0.5,1,1.5,2,2.5,3],"format":"~r","title":null}},"y":{"field":"v","type":"quantitative","scale":{"domain":[-100,100],"nice":false},"axis":{"values":[-100,-50,0,50,100],"format":"~r","labelExpr":"replace(datum.label,'−','-')","title":null}}},"resolve":{"axis":{"x":"independent","y":"independent"}},
  "layer":[{"transform":[{"filter":"datum.g!='x'&&substring(datum.g,0,1)!='s'"}],"mark":{"type":"area","color":"black"},"encoding":{"y2":{"field":"v2"},"detail":{"field":"g","type":"nominal"}}},{"transform":[{"filter":"false"}],"mark":{"type":"point"},"encoding":{"x":{"field":"f","type":"quantitative","scale":{"domain":[0.5,3],"nice":false},"axis":{"orient":"top","labels":false,"domain":false,"values":[0.5,1,1.5,2,2.5,3],"title":null}},"y":{"field":"v","type":"quantitative","scale":{"domain":[-100,100],"nice":false},"axis":{"orient":"right","labels":false,"domain":false,"values":[-100,-50,0,50,100],"title":null}}}}]},
 {"width":161,"height":127,"transform":[{"filter":"datum.p=='C3V'"}],"encoding":{"x":{"field":"f","type":"quantitative","scale":{"domain":[0.5,3],"nice":false},"axis":{"values":[0.5,1,1.5,2,2.5,3],"format":"~r","title":null}},"y":{"field":"v","type":"quantitative","scale":{"domain":[-100,100],"nice":false},"axis":{"values":[-100,-50,0,50,100],"format":"~r","labelExpr":"replace(datum.label,'−','-')","title":null}}},"resolve":{"axis":{"x":"independent","y":"independent"}},
  "layer":[{"transform":[{"filter":"datum.g!='x'&&substring(datum.g,0,1)!='s'"}],"mark":{"type":"area","color":"black"},"encoding":{"y2":{"field":"v2"},"detail":{"field":"g","type":"nominal"}}},{"transform":[{"filter":"false"}],"mark":{"type":"point"},"encoding":{"x":{"field":"f","type":"quantitative","scale":{"domain":[0.5,3],"nice":false},"axis":{"orient":"top","labels":false,"domain":false,"values":[0.5,1,1.5,2,2.5,3],"title":null}},"y":{"field":"v","type":"quantitative","scale":{"domain":[-100,100],"nice":false},"axis":{"orient":"right","labels":false,"domain":false,"values":[-100,-50,0,50,100],"title":null}}}}]},
 {"width":161,"height":122,"transform":[{"filter":"datum.p=='C1C'"}],"encoding":{"x":{"field":"f","type":"quantitative","scale":{"domain":[0.5,3],"nice":false},"axis":{"values":[0.5,1,1.5,2,2.5,3],"format":"~r","title":null}},"y":{"field":"v","type":"quantitative","scale":{"domain":[0,2],"nice":false},"axis":{"values":[0,0.5,1,1.5,2],"format":"~r","title":"Caᵢ(μM)"}}},"resolve":{"axis":{"x":"independent","y":"independent"}},
  "layer":[{"transform":[{"filter":"datum.g!='x'&&substring(datum.g,0,1)!='s'"}],"mark":{"type":"area","color":"black"},"encoding":{"y2":{"field":"v2"},"detail":{"field":"g","type":"nominal"}}},{"transform":[{"filter":"false"}],"mark":{"type":"point"},"encoding":{"x":{"field":"f","type":"quantitative","scale":{"domain":[0.5,3],"nice":false},"axis":{"orient":"top","labels":false,"domain":false,"values":[0.5,1,1.5,2,2.5,3],"title":null}},"y":{"field":"v","type":"quantitative","scale":{"domain":[0,2],"nice":false},"axis":{"orient":"right","labels":false,"domain":false,"values":[0,0.5,1,1.5,2],"title":null}}}}]},
 {"width":161,"height":122,"transform":[{"filter":"datum.p=='C2C'"}],"encoding":{"x":{"field":"f","type":"quantitative","scale":{"domain":[0.5,3],"nice":false},"axis":{"values":[0.5,1,1.5,2,2.5,3],"format":"~r","title":"Frequency (Hz)","titlePadding":0}},"y":{"field":"v","type":"quantitative","scale":{"domain":[0,2],"nice":false},"axis":{"values":[0,0.5,1,1.5,2],"format":"~r","title":null}}},"resolve":{"axis":{"x":"independent","y":"independent"}},
  "layer":[{"transform":[{"filter":"datum.g!='x'&&substring(datum.g,0,1)!='s'"}],"mark":{"type":"area","color":"black"},"encoding":{"y2":{"field":"v2"},"detail":{"field":"g","type":"nominal"}}},{"transform":[{"filter":"false"}],"mark":{"type":"point"},"encoding":{"x":{"field":"f","type":"quantitative","scale":{"domain":[0.5,3],"nice":false},"axis":{"orient":"top","labels":false,"domain":false,"values":[0.5,1,1.5,2,2.5,3],"title":null}},"y":{"field":"v","type":"quantitative","scale":{"domain":[0,2],"nice":false},"axis":{"orient":"right","labels":false,"domain":false,"values":[0,0.5,1,1.5,2],"title":null}}}}]},
 {"width":161,"height":122,"transform":[{"filter":"datum.p=='C3C'"}],"encoding":{"x":{"field":"f","type":"quantitative","scale":{"domain":[0.5,3],"nice":false},"axis":{"values":[0.5,1,1.5,2,2.5,3],"format":"~r","title":null}},"y":{"field":"v","type":"quantitative","scale":{"domain":[0,2],"nice":false},"axis":{"values":[0,0.5,1,1.5,2],"format":"~r","title":null}}},"resolve":{"axis":{"x":"independent","y":"independent"}},
  "layer":[{"transform":[{"filter":"datum.g!='x'&&substring(datum.g,0,1)!='s'"}],"mark":{"type":"area","color":"black"},"encoding":{"y2":{"field":"v2"},"detail":{"field":"g","type":"nominal"}}},{"transform":[{"filter":"false"}],"mark":{"type":"point"},"encoding":{"x":{"field":"f","type":"quantitative","scale":{"domain":[0.5,3],"nice":false},"axis":{"orient":"top","labels":false,"domain":false,"values":[0.5,1,1.5,2,2.5,3],"title":null}},"y":{"field":"v","type":"quantitative","scale":{"domain":[0,2],"nice":false},"axis":{"orient":"right","labels":false,"domain":false,"values":[0,0.5,1,1.5,2],"title":null}}}}]}
 ]}]}
],
"spacing":24
}
